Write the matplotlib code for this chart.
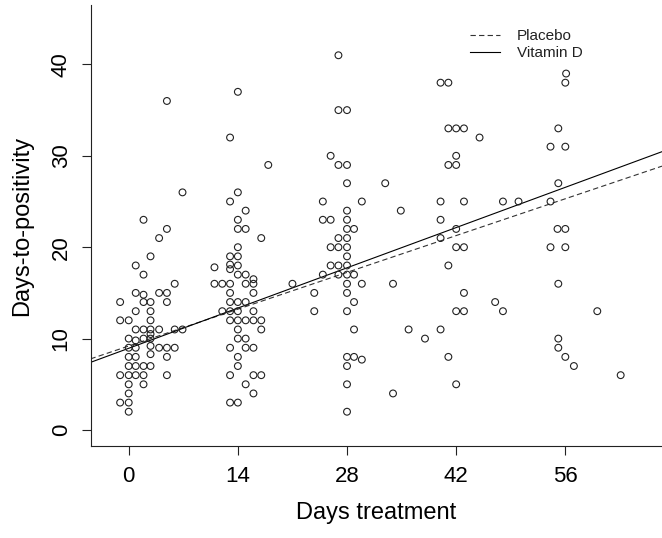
import matplotlib
matplotlib.use("Agg")
import matplotlib.pyplot as plt

plt.rcParams['font.family'] = ['Liberation Sans', 'DejaVu Sans']

# days of treatment (jittered as in the figure) and days-to-positivity
days = [
    # around day 0
    6.9, 1.9, 4.9, 3.9, 2.8, 0.9, 1.9, 5.9,
    0.9, 1.9, 3.9, 4.9,
    -1.1, 1.9, 2.8, 4.9,
    0.9, 2.8,
    -1.1, 0, 2.8,
    0.9, 1.9, 2.8, 3.9, 5.9, 6.9,
    2.8,
    0, 1.9, 2.8, 0.9,
    2.8, 0, 0.9, 3.9, 4.9, 5.9,
    0, 0.9, 2.8, 4.9,
    0, 0.9, 1.9, 2.8,
    -1.1, 0, 0.9, 1.9, 4.9,
    0, 1.9,
    0,
    -1.1, 0,
    0,
    4.9,
    # around day 14
    14, 13, 17.9, 14, 13, 15, 14, 14, 15, 17, 14, 13, 14,
    11, 13, 13, 14, 14, 15, 16,
    11, 12, 13, 15, 16, 21,
    13, 16, 13, 14, 15,
    12, 13, 14, 16,
    13, 14, 15, 16, 17,
    14, 17, 14, 15, 13, 15, 16,
    14, 14, 13, 16, 17, 15, 16, 13, 14,
    # around day 28
    26.9, 26.9, 28, 25.9, 26.9, 28, 28, 32.9, 24.9, 29.9, 28, 34.9,
    24.9, 25.9, 28, 28, 28.9, 26.9, 28, 25.9, 26.9, 28, 28,
    25.9, 26.9, 28, 24.9, 26.9, 28, 28.9, 28, 29.9, 33.9,
    23.8, 28, 28.9, 23.8, 28, 28.9, 35.9, 28, 28.9, 29.9, 28, 28, 33.9, 28,
    # around day 42
    40, 41, 41, 42, 43, 45, 42, 41, 42, 40, 43, 48, 50,
    40, 42, 40, 42, 43, 41, 43, 47, 42, 43, 48, 40, 38, 41, 42,
    # around day 56
    56.1, 56, 55.1, 54.1, 56, 55.1, 54.1, 55, 56, 54.1, 56, 55.1,
    60.1, 55.1, 55.1, 56, 57.1, 63.1,
]
dtp = [
    26, 23, 22, 21, 19, 18, 17, 16,
    15, 14.8, 15, 15,
    14, 14, 14, 14,
    13, 13,
    12, 12, 12,
    11, 11, 11, 11, 11, 11,
    10.5,
    10, 10, 10, 9.8,
    9.2, 9, 9, 9, 9, 9,
    8, 8, 8.3, 8,
    7, 7, 7, 7,
    6, 6, 6, 6, 6,
    5, 5,
    4,
    3, 3,
    2,
    36,
    37, 32, 29, 26, 25, 24, 23, 22, 22, 21, 20, 19, 19,
    17.8, 18.1, 17.6, 18, 17, 17, 16.5,
    16, 16, 16, 16, 16, 16,
    15, 15, 14, 14, 14,
    13, 13, 13, 13,
    12, 12, 12, 12, 12,
    11, 11, 10, 10, 9, 9, 9,
    8, 7, 6, 6, 6, 5, 4, 3, 3,
    41, 35, 35, 30, 29, 29, 27, 27, 25, 25, 24, 24,
    23, 23, 23, 22, 22, 21, 21, 20, 20, 20, 19,
    18, 18, 18, 17, 17, 17, 17, 16, 16, 16,
    15, 15, 14, 13, 13, 11, 11, 8, 8, 7.7, 7, 5, 4, 2,
    38, 38, 33, 33, 33, 32, 30, 29, 29, 25, 25, 25, 25,
    23, 22, 21, 20, 20, 18, 15, 14, 13, 13, 13, 11, 10, 8, 5,
    39, 38, 33, 31, 31, 27, 25, 22, 22, 20, 20, 16,
    13, 10, 9, 8, 7, 6,
]

# fitted regression lines (intercept, slope)
groups = ['Placebo', 'Vitamin D']
intercepts = [9.19, 8.94]
slopes = [0.2877, 0.3145]
styles = [(0, (4.8, 2.9)), '-']
colors = ['#333333', 'black']

xticks = [0, 14, 28, 42, 56]
yticks = [0, 10, 20, 30, 40]

fig = plt.figure(figsize=(6.62, 5.38), dpi=100)
ax = fig.add_axes([90.5 / 662, 1 - 446 / 538, 1 - 90.5 / 662, 441 / 538])

ax.scatter(days, dtp, s=24, facecolors='none', edgecolors='#222222', linewidths=0.8, zorder=3)

xmin, xmax = -4.9, 68.4
for g, b0, b1, ls, c in zip(groups, intercepts, slopes, styles, colors):
    ax.plot([xmin, xmax], [b0 + b1 * xmin, b0 + b1 * xmax], linestyle=ls, color=c, lw=0.8, label=g)

ax.set_xlim(xmin, xmax)
ax.set_ylim(-1.75, 46.5)
ax.set_xticks(xticks)
ax.set_yticks(yticks)
ax.set_yticklabels([str(t) for t in yticks], rotation=90, va='center')
ax.tick_params(axis='both', direction='out', length=6.5, width=0.8, labelsize=16, color='#222222')
ax.tick_params(axis='x', pad=8)
ax.tick_params(axis='y', pad=7)

for side in ['top', 'right']:
    ax.spines[side].set_visible(False)
for side in ['left', 'bottom']:
    ax.spines[side].set_linewidth(0.8)
    ax.spines[side].set_color('#222222')

ax.set_xlabel('Days treatment', fontsize=17)
ax.set_ylabel('Days-to-positivity', fontsize=17)
ax.xaxis.set_label_coords(0.5, -0.127)
ax.yaxis.set_label_coords(-0.1006, 0.5)

leg = ax.legend(loc='upper left', bbox_to_anchor=(470 / 662, 1 - 29 / 538), bbox_transform=fig.transFigure,
                frameon=False, fontsize=11, borderpad=0, borderaxespad=0, handlelength=1.96,
                handletextpad=1.09, labelspacing=0.2)
for t in leg.get_texts():
    t.set_color('#222222')

fig.savefig('out.png', dpi=100)
